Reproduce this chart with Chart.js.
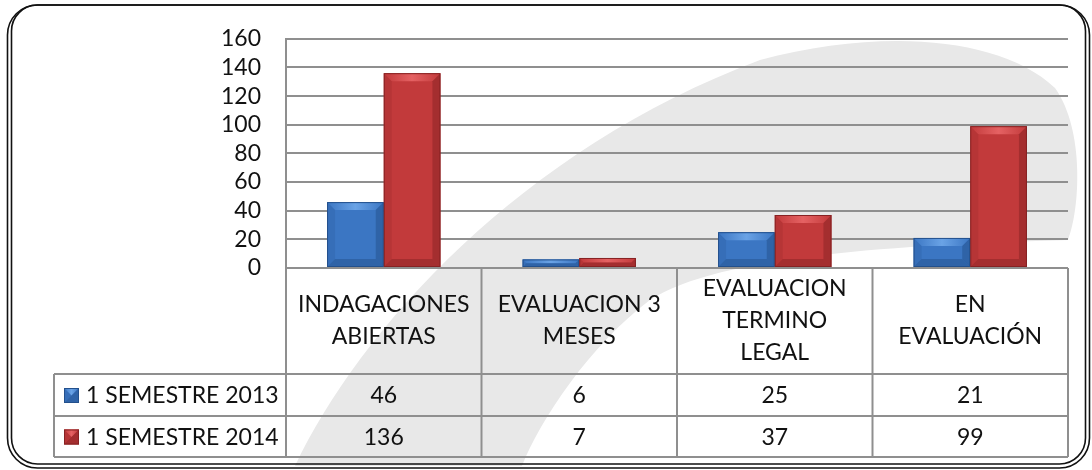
<!DOCTYPE html>
<html>
<head>
<meta charset="utf-8">
<title>Indagaciones 1 semestre</title>
<script src="https://cdn.jsdelivr.net/npm/chart.js"></script>
<style>
    body {
        margin: 0;
        background-color: white;
    }
    #wrap {
        width: 1092px;
        height: 470px;
        position: relative;
    }
</style>
</head>
<body>
<div id="wrap"><canvas id="chart"></canvas></div>
<script>
// chart data
const categories = [
    ['INDAGACIONES', 'ABIERTAS'],
    ['EVALUACION 3', 'MESES'],
    ['EVALUACION', 'TERMINO', 'LEGAL'],
    ['EN', 'EVALUACIÓN']
];
const seriesNames = ['1 SEMESTRE 2013', '1 SEMESTRE 2014'];
const sem2013 = [46, 6, 25, 21];
const sem2014 = [136, 7, 37, 99];
const yMax = 160;
const yStep = 20;

const FONT = 'Lato, "Open Sans", sans-serif';
const GRID = '#8f8f8f';
const palette = [
    { main: '#3b76c3', light: '#6aa3e6', dark: '#23508c' },
    { main: '#c23a3b', light: '#e56263', dark: '#862223' }
];

// grey swoosh behind everything
const swooshPlugin = {
    id: 'swoosh',
    beforeDraw(chart) {
        const ctx = chart.ctx;
        ctx.save();
        ctx.fillStyle = '#e8e8e8';
        ctx.beginPath();
        ctx.moveTo(295, 466);
        ctx.bezierCurveTo(360, 330, 520, 150, 760, 60);
        ctx.bezierCurveTo(880, 28, 1000, 36, 1055, 88);
        ctx.bezierCurveTo(1085, 130, 1080, 210, 1068, 240);
        ctx.bezierCurveTo(900, 245, 720, 255, 650, 300);
        ctx.bezierCurveTo(590, 345, 540, 420, 522, 466);
        ctx.closePath();
        ctx.fill();
        ctx.restore();
    }
};

// bevel look on top of the bars
function bevel(ctx, l, t, r, b, col) {
    const d = Math.min(8, (b - t) / 2, (r - l) / 2);
    const g = ctx.createLinearGradient(l, 0, r, 0);
    g.addColorStop(0, col.main);
    g.addColorStop(0.5, col.light);
    g.addColorStop(1, col.main);
    ctx.fillStyle = g;
    ctx.beginPath();
    ctx.moveTo(l, t); ctx.lineTo(r, t); ctx.lineTo(r - d, t + d); ctx.lineTo(l + d, t + d);
    ctx.fill();
    ctx.globalAlpha = 0.5;
    ctx.fillStyle = col.dark;
    ctx.beginPath();
    ctx.moveTo(r, t); ctx.lineTo(r, b); ctx.lineTo(r - d, b - d); ctx.lineTo(r - d, t + d);
    ctx.fill();
    ctx.beginPath();
    ctx.moveTo(l, b); ctx.lineTo(r, b); ctx.lineTo(r - d, b - d); ctx.lineTo(l + d, b - d);
    ctx.fill();
    ctx.globalAlpha = 0.2;
    ctx.beginPath();
    ctx.moveTo(l, t); ctx.lineTo(l, b); ctx.lineTo(l + d, b - d); ctx.lineTo(l + d, t + d);
    ctx.fill();
    ctx.globalAlpha = 1;
    ctx.strokeStyle = col.dark;
    ctx.lineWidth = 1;
    ctx.strokeRect(l + 0.5, t + 0.5, r - l - 1, b - t - 1);
}

const bevelPlugin = {
    id: 'bevel',
    afterDatasetsDraw(chart) {
        const ctx = chart.ctx;
        ctx.save();
        chart.data.datasets.forEach((ds, i) => {
            chart.getDatasetMeta(i).data.forEach(bar => {
                const l = bar.x - bar.width / 2;
                const r = bar.x + bar.width / 2;
                bevel(ctx, l, bar.y, r, bar.base, palette[i]);
            });
        });
        ctx.restore();
    }
};

// data table under the plot + frame
const tablePlugin = {
    id: 'table',
    afterDraw(chart) {
        const ctx = chart.ctx;
        const xs = chart.scales.x;
        const area = chart.chartArea;
        const step = xs.getPixelForValue(1) - xs.getPixelForValue(0);
        const top = area.bottom;
        const row1 = top + 106;
        const row2 = row1 + 42;
        const bottom = row2 + 41;
        const legLeft = 54;

        ctx.save();
        ctx.strokeStyle = GRID;
        ctx.lineWidth = 2;
        ctx.beginPath();
        ctx.moveTo(area.left, top); ctx.lineTo(area.right, top);
        ctx.moveTo(legLeft, row1); ctx.lineTo(area.right, row1);
        ctx.moveTo(legLeft, row2); ctx.lineTo(area.right, row2);
        ctx.moveTo(legLeft, bottom); ctx.lineTo(area.right, bottom);
        ctx.moveTo(legLeft, row1); ctx.lineTo(legLeft, bottom);
        ctx.moveTo(area.left, top); ctx.lineTo(area.left, bottom);
        for (let i = 0; i < categories.length; i++) {
            const x = xs.getPixelForValue(i) + step / 2;
            ctx.moveTo(x, top); ctx.lineTo(x, bottom);
        }
        ctx.stroke();

        ctx.fillStyle = '#111';
        ctx.font = '23px ' + FONT;
        ctx.textAlign = 'center';
        ctx.textBaseline = 'middle';
        const mid = (top + row1) / 2;
        categories.forEach((lines, i) => {
            const cx = xs.getPixelForValue(i);
            lines.forEach((txt, k) => {
                ctx.fillText(txt, cx, mid + (k - (lines.length - 1) / 2) * 32);
            });
            ctx.fillText(String(sem2013[i]), cx, (row1 + row2) / 2 + 1);
            ctx.fillText(String(sem2014[i]), cx, (row2 + bottom) / 2 + 1);
        });

        // legend keys
        const rows = [(row1 + row2) / 2, (row2 + bottom) / 2];
        rows.forEach((cy, i) => {
            ctx.fillStyle = palette[i].main;
            ctx.fillRect(legLeft + 10, cy - 7, 15, 15);
            bevel(ctx, legLeft + 10, cy - 7, legLeft + 25, cy + 8, palette[i]);
            ctx.fillStyle = '#111';
            ctx.textAlign = 'left';
            ctx.fillText(seriesNames[i], legLeft + 32, cy + 1);
        });

        // double rounded frame
        ctx.strokeStyle = '#111';
        ctx.lineWidth = 1.6;
        ctx.beginPath();
        ctx.roundRect(7.5, 5, 1082, 463, 30);
        ctx.stroke();
        ctx.beginPath();
        ctx.roundRect(11.5, 5, 1074, 459, 26);
        ctx.stroke();
        ctx.restore();
    }
};

new Chart(document.getElementById('chart'), {
    type: 'bar',
    data: {
        labels: categories.map(c => c.join(' ')),
        datasets: [
            { label: seriesNames[0], data: sem2013, backgroundColor: palette[0].main },
            { label: seriesNames[1], data: sem2014, backgroundColor: palette[1].main }
        ]
    },
    options: {
        responsive: true,
        maintainAspectRatio: false,
        animation: false,
        layout: { padding: { top: 26, right: 24, bottom: 202, left: 0 } },
        datasets: { bar: { barPercentage: 1, categoryPercentage: 0.58 } },
        plugins: {
            legend: { display: false },
            tooltip: { enabled: false },
            title: { display: false }
        },
        scales: {
            x: {
                ticks: { display: false },
                grid: { display: false, drawTicks: false },
                border: { display: false },
                afterFit(scale) { scale.height = 0; }
            },
            y: {
                min: 0,
                max: yMax,
                ticks: {
                    stepSize: yStep,
                    autoSkip: false,
                    padding: 25,
                    color: '#111',
                    font: { family: FONT, size: 23 }
                },
                grid: { color: GRID, lineWidth: 2, drawTicks: false },
                border: { display: true, color: GRID, width: 2 },
                afterFit(scale) { scale.width = 286; }
            }
        }
    },
    plugins: [swooshPlugin, bevelPlugin, tablePlugin]
});
</script>
</body>
</html>
